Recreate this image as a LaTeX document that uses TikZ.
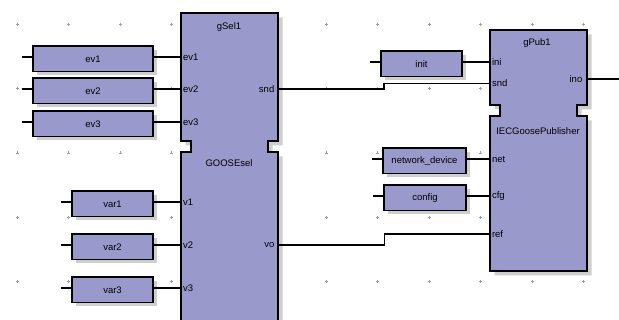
\documentclass[tikz,border=0pt]{standalone}
\usepackage{fontspec}
\setmainfont{Liberation Sans}
\usetikzlibrary{shadows}
\definecolor{blk}{RGB}{153,153,204}
\definecolor{shd}{RGB}{206,206,206}
\definecolor{dotc}{RGB}{160,160,160}
\newcommand\fbshape[6]{% L R T B N1 N2
  (#1,#3) -- (#2,#3) -- (#2,#5) -- ({#2-10},#5) -- ({#2-10},#6) -- (#2,#6) -- (#2,#4)
  -- (#1,#4) -- (#1,#6) -- ({#1+10},#6) -- ({#1+10},#5) -- (#1,#5) -- cycle}
\begin{document}
\begin{tikzpicture}[x=1pt,y=-1pt,
  txt/.style={font=\fontsize{9.5}{11}\selectfont},
  inbox/.style={txt, draw=black, line width=1.5pt, fill=blk, minimum height=25.5pt, inner sep=0pt,
    drop shadow={shadow xshift=3.5pt, shadow yshift=-3.5pt, fill=shd, opacity=1}},
  wire/.style={line width=1.5pt},
  blockline/.style={draw=black, line width=1.5pt, fill=blk},
  blockshadow/.style={fill=shd},
  portl/.style={txt, anchor=west, inner sep=0pt},
  portr/.style={txt, anchor=east, inner sep=0pt},
  ttl/.style={txt, inner sep=0pt}]
\useasboundingbox (0,0) rectangle (619,320);
\fill[white] (0,0) rectangle (619,320);
% grid marks
\foreach \gx in {17,68.5,120,171.5,223,274.5,326,377.5,429,480.5,532,583.5}
  \foreach \gy in {24.3,88.7,153,217.3,281.7}
    \draw[dotc, line width=0.5pt] (\gx-1.5,\gy) -- (\gx+1.5,\gy) (\gx,\gy-1.5) -- (\gx,\gy+1.5);
% gSel1 block
\fill[blockshadow, shift={(4.5,4.5)}] \fbshape{181}{278}{13}{330}{141}{152};
\path[blockline] \fbshape{181}{278}{13}{330}{141}{152};
% gPub1 block
\fill[blockshadow, shift={(4.5,4.5)}] \fbshape{490}{587}{30}{271}{105}{116};
\path[blockline] \fbshape{490}{587}{30}{271}{105}{116};
% block titles
\node[ttl] (selname) at (229,27) {gSel1};
\node[ttl] (seltype) at (229,163.5) {GOOSEsel};
\node[ttl] (pubname) at (537,43) {gPub1};
\node[ttl] (pubtype) at (538,131) {IECGoosePublisher};
% port coordinates
\coordinate (s-ev1) at (181,57);
\coordinate (s-ev2) at (181,89);
\coordinate (s-ev3) at (181,122);
\coordinate (s-v1) at (181,202);
\coordinate (s-v2) at (181,245);
\coordinate (s-v3) at (181,288);
\coordinate (s-snd) at (278,89);
\coordinate (s-vo) at (278,245);
\coordinate (p-ini) at (490,62);
\coordinate (p-snd) at (490,83.5);
\coordinate (p-net) at (490,159);
\coordinate (p-cfg) at (490,196);
\coordinate (p-ref) at (490,234);
\coordinate (p-ino) at (587,79);
% port labels
\node[portl] (l-ev1) at ([xshift=1.8pt]s-ev1) {ev1};
\node[portl] (l-ev2) at ([xshift=1.8pt]s-ev2) {ev2};
\node[portl] (l-ev3) at ([xshift=1.8pt]s-ev3) {ev3};
\node[portl] (l-v1) at ([xshift=1.8pt]s-v1) {v1};
\node[portl] (l-v2) at ([xshift=1.8pt]s-v2) {v2};
\node[portl] (l-v3) at ([xshift=1.8pt]s-v3) {v3};
\node[portr] (l-snd) at ([xshift=-3.5pt]s-snd) {snd};
\node[portr] (l-vo) at ([xshift=-3.5pt]s-vo) {vo};
\node[portl] (l-ini) at ([xshift=1.8pt]p-ini) {ini};
\node[portl] (l-psnd) at ([xshift=1.8pt]p-snd) {snd};
\node[portl] (l-net) at ([xshift=1.8pt]p-net) {net};
\node[portl] (l-cfg) at ([xshift=1.8pt]p-cfg) {cfg};
\node[portl] (l-ref) at ([xshift=1.8pt]p-ref) {ref};
\node[portr] (l-ino) at ([xshift=-4.5pt]p-ino) {ino};
% input boxes
\node[inbox, minimum width=120pt] (ev1) at (93,59) {ev1};
\node[inbox, minimum width=120pt] (ev2) at (93,91) {ev2};
\node[inbox, minimum width=120pt] (ev3) at (93,124) {ev3};
\node[inbox, minimum width=81pt] (var1) at (112.5,204) {var1};
\node[inbox, minimum width=81pt] (var2) at (112.5,247) {var2};
\node[inbox, minimum width=81pt] (var3) at (112.5,290) {var3};
\node[inbox, minimum width=81pt] (init) at (421.5,64) {init};
\node[inbox, minimum width=83pt] (netdev) at (424.5,161) {network\_device};
\node[inbox, minimum width=82pt] (config) at (425,198) {config};
% wires
\foreach \b/\p in {ev1/s-ev1, ev2/s-ev2, ev3/s-ev3, var1/s-v1, var2/s-v2, var3/s-v3,
                   init/p-ini, netdev/p-net, config/p-cfg} {
  \draw[wire] (\b.east |- \p) -- (\p);
  \draw[wire] (\b.west |- \p) -- ++(-10.5,0);
}
\draw[wire] (s-snd) -- ++(106,0) |- (p-snd);
\draw[wire] (s-vo) -- ++(106.5,0) |- (p-ref);
\draw[wire] (p-ino) -- ++(34,0);
\end{tikzpicture}
\end{document}
